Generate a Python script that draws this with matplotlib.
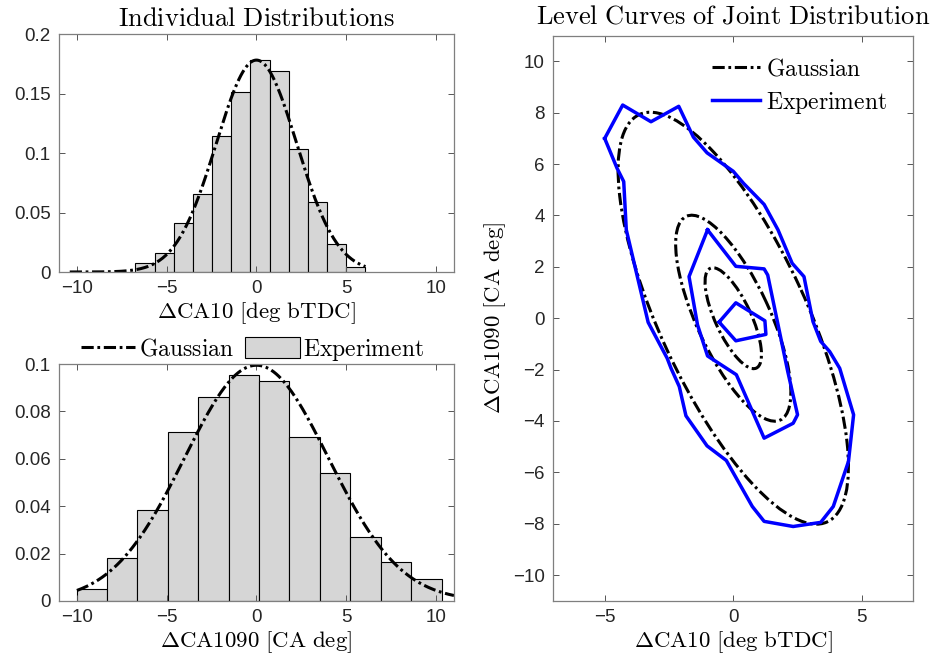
import numpy as np
import matplotlib
matplotlib.use("Agg")
import matplotlib.pyplot as plt
from matplotlib.patches import Ellipse, Patch
from matplotlib.lines import Line2D

plt.rcParams['font.family'] = ['Liberation Sans', 'DejaVu Sans']
plt.rcParams['mathtext.fontset'] = 'cm'

# --- individual distributions (histograms) ---
ca10_edges = [-6.74, -5.67, -4.61, -3.54, -2.47, -1.41, -0.34, 0.73, 1.79, 2.86, 3.93, 4.99, 6.06]
ca10_heights = [0.0073, 0.0157, 0.0415, 0.0653, 0.1146, 0.151, 0.1779, 0.1692, 0.1031, 0.0585, 0.0238, 0.0045]
ca10_mu, ca10_sd = 0.0, 2.24
ca10_range = [-10.4, 6.07]

ca1090_edges = [-10.02, -8.33, -6.63, -4.94, -3.24, -1.55, 0.15, 1.84, 3.54, 5.23, 6.93, 8.63, 10.33]
ca1090_heights = [0.0052, 0.0182, 0.0382, 0.0715, 0.0859, 0.0954, 0.0930, 0.0690, 0.0538, 0.0268, 0.0166, 0.0092]
ca1090_mu, ca1090_sd = 0.0, 4.01
ca1090_range = [-10.0, 11.0]

# --- joint distribution ---
rho = -0.72
gauss_radii = [2.0, 1.0, 0.49]   # Mahalanobis radius of each level curve

exp_outer = [(-5.0, 7.0), (-4.3, 8.3), (-3.2, 7.65), (-2.12, 8.25), (-1.55, 7.05), (-1.02, 6.44),
             (0.0, 5.72), (0.4, 5.25), (1.2, 4.43), (1.74, 3.44), (2.29, 2.14), (2.75, 1.62),
             (3.1, -0.13), (3.4, -0.9), (3.75, -1.3), (4.14, -1.95), (4.68, -3.76), (4.48, -5.58),
             (3.89, -7.33), (3.4, -7.95), (2.33, -8.11), (1.2, -7.91), (0.74, -7.33), (-0.27, -5.54),
             (-1.02, -4.97), (-1.84, -3.8), (-2.1, -2.66), (-2.42, -1.95), (-2.57, -1.56),
             (-3.31, -0.16), (-4.16, 3.44), (-4.26, 5.32), (-4.52, 5.84), (-5.0, 7.0)]
exp_middle = [(-1.0, 3.44), (0.1, 2.02), (1.2, 1.92), (1.34, 1.68), (2.12, -2.08), (2.5, -3.76),
              (2.33, -4.09), (1.2, -4.67), (0.12, -2.2), (-1.0, -1.47), (-1.39, -0.26),
              (-1.72, 1.62), (-1.0, 3.44)]
exp_inner = [(-0.55, -0.15), (0.1, 0.6), (1.23, -0.1), (1.27, -0.63), (0.1, -0.88), (-0.55, -0.15)]

gauss_ls = (0, (4.0, 1.2, 0.9, 1.2))
axis_gray = '#262626'
bar_gray = '#d6d6d6'
lab_fs = 16.5
tick_fs = 13.5


def style(ax):
    for s in ax.spines.values():
        s.set_color('#7f7f7f')
        s.set_linewidth(0.9)
    ax.tick_params(direction='in', top=True, right=True, length=4, width=0.7,
                   colors='#555555', labelcolor=axis_gray, labelsize=tick_fs, pad=6)


fig = plt.figure(figsize=(9.36, 6.61), dpi=100)

ax1 = fig.add_axes([0.063, 0.5885, 0.422, 0.360])
ax1.bar(ca10_edges[:-1], ca10_heights, width=np.diff(ca10_edges), align='edge',
        color=bar_gray, edgecolor='black', linewidth=0.8)
x = np.linspace(ca10_range[0], ca10_range[1], 300)
ax1.plot(x, np.exp(-0.5 * ((x - ca10_mu) / ca10_sd) ** 2) / (ca10_sd * np.sqrt(2 * np.pi)),
         color='black', lw=2.2, ls=gauss_ls)
ax1.set_xlim(-11, 11)
ax1.set_ylim(0, 0.2)
ax1.set_xticks([-10, -5, 0, 5, 10])
ax1.set_yticks([0, 0.05, 0.1, 0.15, 0.2])
ax1.set_yticklabels(['0', '0.05', '0.1', '0.15', '0.2'])
ax1.set_xlabel(r'$\Delta\mathrm{CA10\ [deg\ bTDC]}$', fontsize=lab_fs, labelpad=2)
ax1.set_title(r'$\mathrm{Individual\ Distributions}$', fontsize=19, pad=6)
style(ax1)

ax2 = fig.add_axes([0.063, 0.0908, 0.422, 0.3585])
ax2.bar(ca1090_edges[:-1], ca1090_heights, width=np.diff(ca1090_edges), align='edge',
        color=bar_gray, edgecolor='black', linewidth=0.8)
x = np.linspace(ca1090_range[0], ca1090_range[1], 300)
ax2.plot(x, np.exp(-0.5 * ((x - ca1090_mu) / ca1090_sd) ** 2) / (ca1090_sd * np.sqrt(2 * np.pi)),
         color='black', lw=2.2, ls=gauss_ls)
ax2.set_xlim(-11, 11)
ax2.set_ylim(0, 0.1)
ax2.set_xticks([-10, -5, 0, 5, 10])
ax2.set_yticks([0, 0.02, 0.04, 0.06, 0.08, 0.1])
ax2.set_yticklabels(['0', '0.02', '0.04', '0.06', '0.08', '0.1'])
ax2.set_xlabel(r'$\Delta\mathrm{CA1090\ [CA\ deg]}$', fontsize=lab_fs, labelpad=2)
style(ax2)
h_g = Line2D([], [], color='black', lw=2.2, ls=gauss_ls)
h_e = Patch(facecolor=bar_gray, edgecolor='black', linewidth=0.8)
ax2.legend([h_g, h_e], [r'$\mathrm{Gaussian}$', r'$\mathrm{Experiment}$'], ncol=2,
           loc='lower center', bbox_to_anchor=(0.49, 0.995), frameon=False, fontsize=17,
           handlelength=2.3, handleheight=1.0, handletextpad=0.15, columnspacing=0.5,
           borderpad=0, borderaxespad=0.1)

ax3 = fig.add_axes([0.5911, 0.0912, 0.3846, 0.8548])
cov = np.array([[ca10_sd ** 2, rho * ca10_sd * ca1090_sd],
                [rho * ca10_sd * ca1090_sd, ca1090_sd ** 2]])
vals, vecs = np.linalg.eigh(cov)
angle = np.degrees(np.arctan2(vecs[1, 1], vecs[0, 1]))
for r in gauss_radii:
    ax3.add_patch(Ellipse((ca10_mu, ca1090_mu), 2 * r * np.sqrt(vals[1]), 2 * r * np.sqrt(vals[0]),
                          angle=angle, fill=False, edgecolor='black', lw=2.2, ls=gauss_ls))
for poly in [exp_outer, exp_middle, exp_inner]:
    px, py = zip(*poly)
    ax3.plot(px, py, color='#0000ff', lw=2.5)
ax3.set_xlim(-7, 7)
ax3.set_ylim(-11, 11)
ax3.set_xticks([-5, 0, 5])
ax3.set_yticks(np.arange(-10, 11, 2))
ax3.set_xlabel(r'$\Delta\mathrm{CA10\ [deg\ bTDC]}$', fontsize=lab_fs, labelpad=2)
ax3.set_ylabel(r'$\Delta\mathrm{CA1090\ [CA\ deg]}$', fontsize=lab_fs, labelpad=4)
ax3.set_title(r'$\mathrm{Level\ Curves\ of\ Joint\ Distribution}$', fontsize=19, pad=9)
style(ax3)
h_b = Line2D([], [], color='#0000ff', lw=2.5)
ax3.legend([h_g, h_b], [r'$\mathrm{Gaussian}$', r'$\mathrm{Experiment}$'],
           loc='upper left', bbox_to_anchor=(0.44, 0.96), frameon=False, fontsize=17,
           handlelength=2.05, handletextpad=0.25, labelspacing=0.4,
           borderpad=0, borderaxespad=0)

fig.savefig('out.png', dpi=100)
